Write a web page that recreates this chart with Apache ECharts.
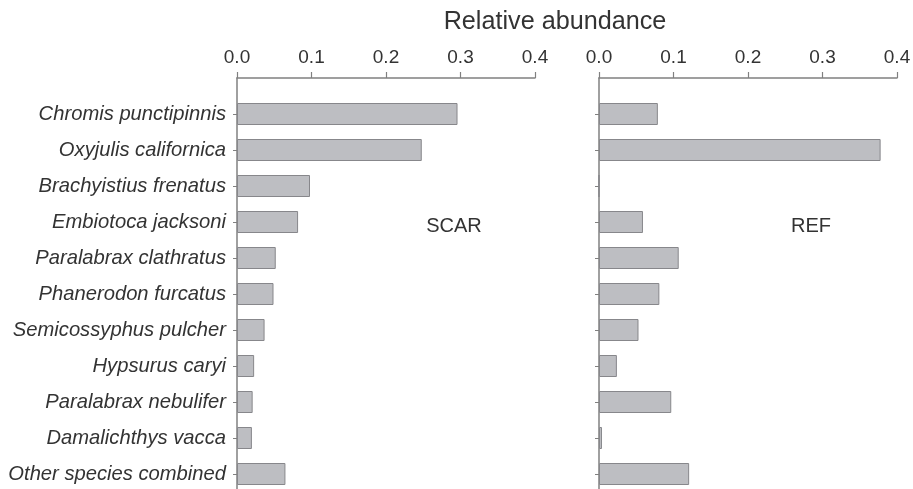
<!DOCTYPE html>
<html>
<head>
<meta charset="utf-8">
<script src="https://cdn.jsdelivr.net/npm/echarts@6/dist/echarts.min.js"></script>
<style>
  html, body { margin: 0; padding: 0; background: #fff; }
  #main { width: 913px; height: 489px; }
</style>
</head>
<body>
<div id="main"></div>
<script>
// species, top to bottom
var species = ['Chromis punctipinnis', 'Oxyjulis californica', 'Brachyistius frenatus',
  'Embiotoca jacksoni', 'Paralabrax clathratus', 'Phanerodon furcatus',
  'Semicossyphus pulcher', 'Hypsurus caryi', 'Paralabrax nebulifer',
  'Damalichthys vacca', 'Other species combined'];
// relative abundance at scar site
var scarVals = [0.296, 0.248, 0.098, 0.082, 0.052, 0.049, 0.037, 0.023, 0.021, 0.020, 0.065];
// relative abundance at reference site
var refVals = [0.079, 0.378, 0, 0.059, 0.107, 0.081, 0.053, 0.024, 0.097, 0.004, 0.121];
var xTicks = [0, 0.1, 0.2, 0.3, 0.4];

var fontName = 'Liberation Sans, Arial, Helvetica, sans-serif';
var axisColor = '#808080';
var textColor = '#333';

// blank slot above and below so the axis line runs from the top axis to the page bottom
var cats = [''].concat(species, ['']);
function pad(arr) { return ['-'].concat(arr, ['-']); }

function xAxisFor(idx) {
  return {
    type: 'value', gridIndex: idx, position: 'top',
    min: xTicks[0], max: xTicks[xTicks.length - 1], interval: 0.1,
    axisLine: { show: true, lineStyle: { color: axisColor, width: 1.5 } },
    axisTick: { show: true, length: 6, lineStyle: { color: axisColor, width: 1.2 } },
    axisLabel: { margin: 11, color: textColor, fontSize: 19, fontFamily: fontName,
      formatter: function (v) { return v.toFixed(1); } },
    splitLine: { show: false }
  };
}
function yAxisFor(idx, showLabels) {
  return {
    type: 'category', gridIndex: idx, data: cats, inverse: true, boundaryGap: false,
    axisLine: { show: true, lineStyle: { color: axisColor, width: 1.5 } },
    axisTick: { show: true, length: 4, lineStyle: { color: axisColor },
      interval: function (i, v) { return v !== ''; } },
    axisLabel: { show: showLabels, margin: 11, color: textColor, fontSize: 20.2,
      fontStyle: 'italic', fontFamily: fontName,
      interval: function (i, v) { return v !== ''; } },
    splitLine: { show: false }
  };
}
var barStyle = { color: '#bdbec2', borderColor: '#87878b', borderWidth: 1 };

var chart = echarts.init(document.getElementById('main'));
chart.setOption({
  animation: false,
  backgroundColor: '#fff',
  title: [
    { text: 'Relative abundance', left: 550, top: 5, textAlign: 'center',
      textStyle: { fontSize: 25.2, fontWeight: 'normal', color: textColor, fontFamily: fontName } },
    { text: 'SCAR', left: 449, top: 211, textAlign: 'center',
      textStyle: { fontSize: 20, fontWeight: 'normal', color: textColor, fontFamily: fontName } },
    { text: 'REF', left: 806, top: 211, textAlign: 'center',
      textStyle: { fontSize: 20, fontWeight: 'normal', color: textColor, fontFamily: fontName } }
  ],
  grid: [
    { left: 237, width: 298, top: 78, height: 432, outerBoundsMode: 'none' },
    { left: 599, width: 298, top: 78, height: 432, outerBoundsMode: 'none' }
  ],
  xAxis: [xAxisFor(0), xAxisFor(1)],
  yAxis: [yAxisFor(0, true), yAxisFor(1, false)],
  series: [
    { type: 'bar', name: 'SCAR', xAxisIndex: 0, yAxisIndex: 0, data: pad(scarVals),
      barWidth: 22, itemStyle: barStyle },
    { type: 'bar', name: 'REF', xAxisIndex: 1, yAxisIndex: 1, data: pad(refVals),
      barWidth: 22, itemStyle: barStyle }
  ]
});
</script>
</body>
</html>
